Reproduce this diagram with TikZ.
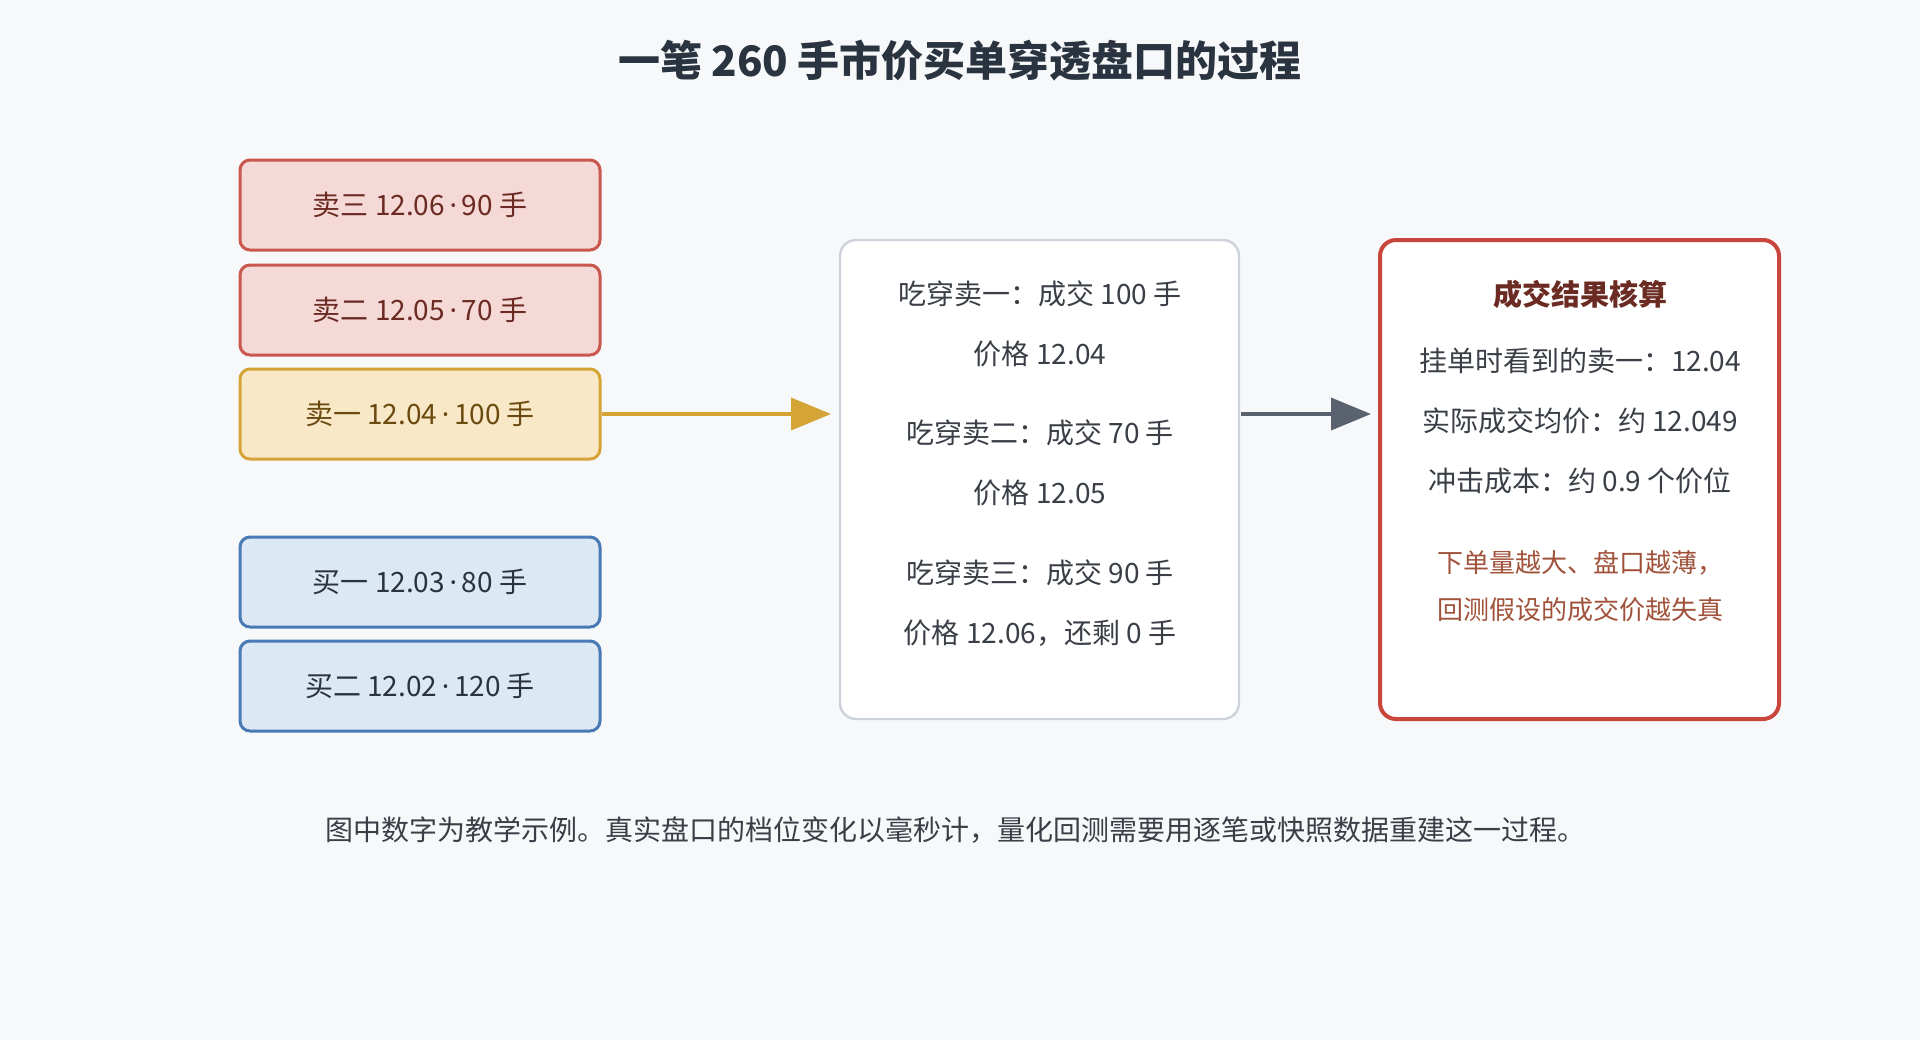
\documentclass[tikz,border=0pt]{standalone}
\usepackage{fontspec}
\setmainfont{Noto Sans CJK SC}
\newfontfamily\latinf{Noto Sans}
\newcommand{\md}{{\latinf\,·\,}}
\usetikzlibrary{arrows.meta}
\definecolor{bg}{HTML}{F7F8FA}
\definecolor{sf}{HTML}{F5D9D7}\definecolor{sd}{HTML}{C9574D}
\definecolor{yf}{HTML}{F9E8C7}\definecolor{yd}{HTML}{D4A437}
\definecolor{bf}{HTML}{DDE8F5}\definecolor{bd}{HTML}{4A7AB5}
\definecolor{gd}{HTML}{CDD2DA}\definecolor{rd}{HTML}{C9463D}
\definecolor{tx}{HTML}{3A3F47}\definecolor{ti}{HTML}{2A3340}
\definecolor{rt}{HTML}{A0523A}\definecolor{ar}{HTML}{5A6270}
\definecolor{yt}{HTML}{6B4A10}\definecolor{ht}{HTML}{6B2A22}
\begin{document}
\begin{tikzpicture}[x=0.5pt,y=-0.5pt,
 lvl/.style={draw,line width=1.5pt,rounded corners=5pt,minimum width=180pt,minimum height=45pt,font=\fontsize{14}{16}\selectfont,text=tx},
 t/.style={font=\fontsize{14}{16}\selectfont,text=tx}]
\fill[bg] (0,0) rectangle (1920,1040);
\useasboundingbox (0,0) rectangle (1920,1040);
\node[font=\bfseries\fontsize{21}{25}\selectfont,text=ti] (title) at (960,61) {一笔 260 手市价买单穿透盘口的过程};
\node[lvl,fill=sf,draw=sd,text=ht] (s3) at (420,205) {卖三 12.06\md 90 手};
\node[lvl,fill=sf,draw=sd,text=ht] (s2) at (420,310) {卖二 12.05\md 70 手};
\node[lvl,fill=yf,draw=yd,text=yt] (s1) at (420,414) {卖一 12.04\md 100 手};
\node[lvl,fill=bf,draw=bd,text=ti] (b1) at (420,582) {买一 12.03\md 80 手};
\node[lvl,fill=bf,draw=bd,text=ti] (b2) at (420,686) {买二 12.02\md 120 手};
\draw[draw=gd,fill=white,line width=1.2pt,rounded corners=8pt] (840,240) rectangle (1239,719);
\coordinate (midR) at (1241,414);
\node[t] (m1) at (1040,294) {吃穿卖一：成交 100 手};
\node[t] (m2) at (1040,354) {价格 12.04};
\node[t] (m3) at (1040,433) {吃穿卖二：成交 70 手};
\node[t] (m4) at (1040,493) {价格 12.05};
\node[t] (m5) at (1040,573) {吃穿卖三：成交 90 手};
\node[t] (m6) at (1040,633) {价格 12.06，还剩 0 手};
\draw[draw=rd,fill=white,line width=2pt,rounded corners=8pt] (1380,240) rectangle (1779,719);
\node[font=\bfseries\fontsize{14.5}{17}\selectfont,text=ht] (r0) at (1580,294) {成交结果核算};
\node[t] (r1) at (1580,361) {挂单时看到的卖一：12.04};
\node[t] (r2) at (1580,421) {实际成交均价：约 12.049};
\node[t] (r3) at (1580,481) {冲击成本：约 0.9 个价位};
\node[t,text=rt,font=\fontsize{13}{15}\selectfont] (r4) at (1580,563) {下单量越大、盘口越薄，};
\node[t,text=rt,font=\fontsize{13}{15}\selectfont] (r5) at (1580,610) {回测假设的成交价越失真};
\draw[yd,line width=1.8pt,-{Triangle[length=20pt,width=16pt]}] (s1.east) -- (831,414);
\draw[ar,line width=1.8pt,-{Triangle[length=20pt,width=16pt]}] (midR) -- (1371,414);
\node[t] (foot) at (955,830) {图中数字为教学示例。真实盘口的档位变化以毫秒计，量化回测需要用逐笔或快照数据重建这一过程。};
\end{tikzpicture}
\end{document}
